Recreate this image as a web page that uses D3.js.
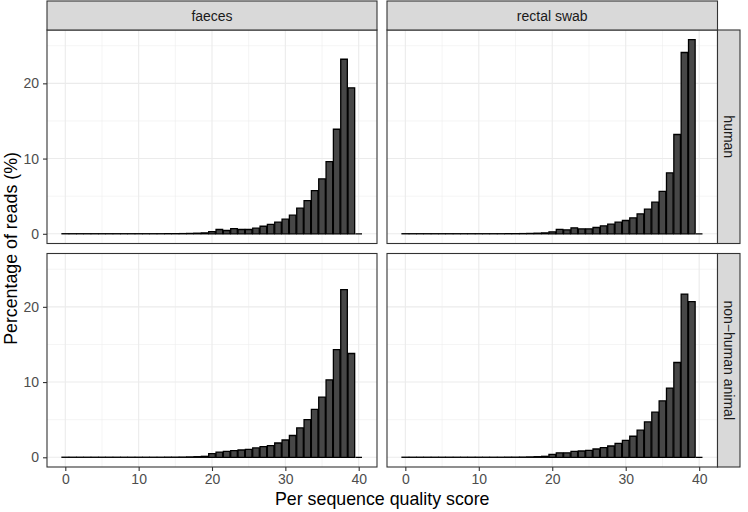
<!DOCTYPE html>
<html>
<head>
<meta charset="utf-8">
<script src="https://cdn.jsdelivr.net/npm/d3@7/dist/d3.min.js"></script>
<style>
  html, body { margin: 0; padding: 0; background: #ffffff; }
  svg { display: block; font-family: "Liberation Sans", Arial, sans-serif; }
</style>
</head>
<body>
<svg id="chart" width="748" height="512"></svg>
<script>
// ---------- data ----------
const qualityScores = [0,1,2,3,4,5,6,7,8,9,10,11,12,13,14,15,16,17,18,19,20,
                       21,22,23,24,25,26,27,28,29,30,31,32,33,34,35,36,37,38,39,40];
const sampleTypes = ["faeces", "rectal swab"];
const hosts = ["human", "non\u2212human animal"];

const faecesHuman = [0.01,0.01,0.01,0.01,0.01,0.01,0.01,0.01,0.01,0.01,0.01,0.01,0.01,0.01,0.02,0.02,0.03,0.05,0.08,0.12,
                     0.3,0.57,0.44,0.7,0.57,0.57,0.75,1.0,1.24,1.55,1.94,2.47,3.4,4.4,5.74,7.3,9.6,13.9,23.2,19.4,0];
const swabHuman = [0.01,0.01,0.01,0.01,0.01,0.01,0.01,0.01,0.01,0.01,0.01,0.01,0.01,0.01,0.02,0.02,0.03,0.05,0.08,0.12,
                   0.26,0.6,0.53,0.8,0.66,0.66,0.84,1.06,1.28,1.55,1.77,2.12,2.65,3.27,4.2,5.65,8.1,13.2,24.1,25.8,0];
const faecesAnimal = [0.01,0.01,0.01,0.01,0.01,0.01,0.01,0.01,0.01,0.01,0.01,0.01,0.01,0.01,0.02,0.02,0.03,0.05,0.08,0.13,
                      0.49,0.7,0.8,0.88,0.97,1.06,1.24,1.41,1.55,1.9,2.3,2.9,3.9,5.0,6.36,8.0,10.3,14.3,22.3,13.8,0];
const swabAnimal = [0.01,0.01,0.01,0.01,0.01,0.01,0.01,0.01,0.01,0.01,0.01,0.01,0.01,0.01,0.02,0.02,0.03,0.05,0.08,0.13,
                    0.4,0.6,0.6,0.8,0.84,0.93,1.1,1.28,1.5,1.85,2.25,2.8,3.6,4.7,6.0,7.5,9.2,12.6,21.7,20.7,0];

const xTicks = [0, 10, 20, 30, 40];
const yTicks = [0, 10, 20];

const panelValues = [
  [faecesHuman, swabHuman],
  [faecesAnimal, swabAnimal]
];

// ---------- layout ----------
const svg = d3.select("#chart");
const colX = [[47, 377], [387, 717.5]];
const rowY = [[30, 243.5], [253.5, 467]];
const stripTop = 1, stripRight = 740;
const barWidth = 0.9;
const tickFont = "14px", stripFont = "14px", titleFont = "17.8px";

const allVals = [].concat(faecesHuman, swabHuman, faecesAnimal, swabAnimal);
const yMax = d3.max(allVals);
const yExp = yMax * 0.05;
const xMin = d3.min(qualityScores) - barWidth / 2, xMaxV = d3.max(qualityScores) + barWidth / 2;
const xExp = (xMaxV - xMin) * 0.05;

const gridCol = "#EBEBEB";
const borderCol = "#333333";

for (let r = 0; r < 2; r++) {
  for (let c = 0; c < 2; c++) {
    const x = d3.scaleLinear().domain([xMin - xExp, xMaxV + xExp]).range(colX[c]);
    const y = d3.scaleLinear().domain([-yExp, yMax + yExp]).range([rowY[r][1], rowY[r][0]]);
    const g = svg.append("g");
    const [x0, x1] = colX[c], [y0, y1] = rowY[r];

    g.append("rect").attr("x", x0).attr("y", y0).attr("width", x1 - x0).attr("height", y1 - y0).attr("fill", "#fff");

    const xMinor = [5, 15, 25, 35];
    const yMinor = [5, 15, 25];
    g.selectAll(".xmin").data(xMinor).enter().append("line")
      .attr("x1", d => x(d)).attr("x2", d => x(d)).attr("y1", y0).attr("y2", y1)
      .attr("stroke", gridCol).attr("stroke-width", 0.55);
    g.selectAll(".ymin").data(yMinor).enter().append("line")
      .attr("y1", d => y(d)).attr("y2", d => y(d)).attr("x1", x0).attr("x2", x1)
      .attr("stroke", gridCol).attr("stroke-width", 0.55);
    g.selectAll(".xmaj").data(xTicks).enter().append("line")
      .attr("x1", d => x(d)).attr("x2", d => x(d)).attr("y1", y0).attr("y2", y1)
      .attr("stroke", gridCol).attr("stroke-width", 1.1);
    g.selectAll(".ymaj").data(yTicks).enter().append("line")
      .attr("y1", d => y(d)).attr("y2", d => y(d)).attr("x1", x0).attr("x2", x1)
      .attr("stroke", gridCol).attr("stroke-width", 1.1);

    const vals = panelValues[r][c];
    g.selectAll(".bar").data(qualityScores).enter().append("path")
      .attr("d", (q, i) => {
        const bx0 = x(q - barWidth / 2), bx1 = x(q + barWidth / 2);
        const by0 = y(0), by1 = y(vals[i]);
        return `M${bx0},${by0}H${bx1}V${by1}H${bx0}Z`;
      })
      .attr("fill", "#474747").attr("stroke", "#000").attr("stroke-width", 1.3)
      .attr("stroke-linejoin", "miter");

    g.append("rect").attr("x", x0).attr("y", y0).attr("width", x1 - x0).attr("height", y1 - y0)
      .attr("fill", "none").attr("stroke", borderCol).attr("stroke-width", 1.1);

    if (c === 0) {
      const ax = svg.append("g").attr("transform", `translate(${x0},0)`)
        .call(d3.axisLeft(y).tickValues(yTicks).tickSize(4).tickPadding(4).tickFormat(d3.format("d")));
      ax.select(".domain").remove();
      ax.selectAll(".tick line").attr("stroke", borderCol).attr("stroke-width", 1.1);
      ax.selectAll(".tick text").attr("fill", "#4D4D4D").style("font-size", tickFont)
        .style("font-family", "Liberation Sans, Arial, sans-serif");
    }
    if (r === 1) {
      const ax = svg.append("g").attr("transform", `translate(0,${y1})`)
        .call(d3.axisBottom(x).tickValues(xTicks).tickSize(4).tickPadding(3.5).tickFormat(d3.format("d")));
      ax.select(".domain").remove();
      ax.selectAll(".tick line").attr("stroke", borderCol).attr("stroke-width", 1.1);
      ax.selectAll(".tick text").attr("fill", "#4D4D4D").style("font-size", tickFont)
        .style("font-family", "Liberation Sans, Arial, sans-serif");
    }
  }
}

sampleTypes.forEach((s, c) => {
  const [x0, x1] = colX[c];
  svg.append("rect").attr("x", x0).attr("y", stripTop).attr("width", x1 - x0).attr("height", rowY[0][0] - stripTop)
    .attr("fill", "#D9D9D9").attr("stroke", borderCol).attr("stroke-width", 1.1);
  svg.append("text").attr("x", (x0 + x1) / 2).attr("y", (stripTop + rowY[0][0]) / 2)
    .attr("text-anchor", "middle").attr("dominant-baseline", "central")
    .attr("fill", "#1A1A1A").style("font-size", stripFont).text(s);
});

hosts.forEach((h, r) => {
  const [y0, y1] = rowY[r];
  const sx0 = colX[1][1];
  svg.append("rect").attr("x", sx0).attr("y", y0).attr("width", stripRight - sx0).attr("height", y1 - y0)
    .attr("fill", "#D9D9D9").attr("stroke", borderCol).attr("stroke-width", 1.1);
  const cx = (sx0 + stripRight) / 2, cy = (y0 + y1) / 2;
  svg.append("text").attr("transform", `translate(${cx},${cy}) rotate(90)`)
    .attr("text-anchor", "middle").attr("dominant-baseline", "central")
    .attr("fill", "#1A1A1A").style("font-size", stripFont).text(h);
});

svg.append("text").attr("x", (colX[0][0] + colX[1][1]) / 2).attr("y", 505)
  .attr("text-anchor", "middle").attr("fill", "#000").style("font-size", titleFont)
  .text("Per sequence quality score");
svg.append("text").attr("transform", `translate(17,${(rowY[0][0] + rowY[1][1]) / 2}) rotate(-90)`)
  .attr("text-anchor", "middle").attr("fill", "#000").style("font-size", titleFont)
  .text("Percentage of reads (%)");
</script>
</body>
</html>
